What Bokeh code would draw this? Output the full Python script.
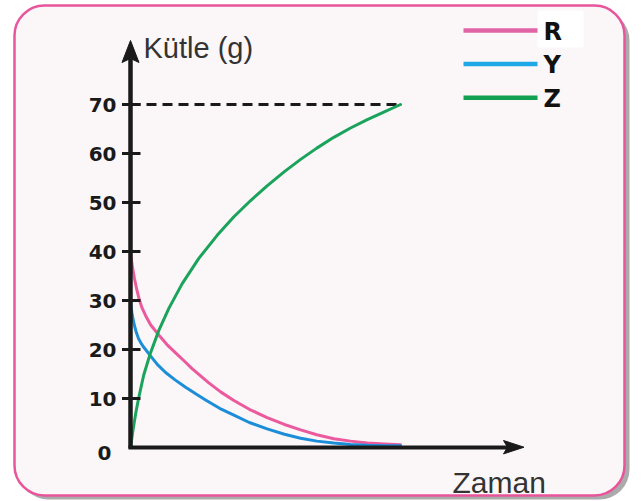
from bokeh.plotting import figure
from bokeh.models import Range1d, BoxAnnotation
from bokeh.core.properties import value
from bokeh.embed import file_html
from bokeh.resources import INLINE

# ---------------- data ----------------
R_time = [0, 0.03, 0.08, 0.15, 0.23, 0.32, 0.42, 0.56, 0.75, 1.07, 1.35, 1.67, 2.0, 2.28,
          2.9, 3.35, 3.83, 4.4, 5.06, 5.7, 6.3, 6.9, 7.53, 8.15, 8.77, 9.4, 10]
R_mass = [40, 38.4, 36.6, 34.4, 32.3, 30.3, 28.6, 26.9, 25.0, 22.8, 21.0, 19.3, 17.6, 16.1,
          13.2, 11.3, 9.6, 7.8, 6.1, 4.7, 3.6, 2.6, 1.8, 1.3, 0.9, 0.7, 0.55]

Y_time = [0, 0.02, 0.05, 0.09, 0.15, 0.22, 0.3, 0.4, 0.5, 0.74, 1.0, 1.3, 1.65, 2.04,
          2.4, 2.78, 3.3, 3.83, 4.4, 5.06, 5.7, 6.3, 6.9, 7.53, 8.15, 8.77, 9.4, 10]
Y_mass = [30, 28.8, 27.6, 26.3, 24.8, 23.4, 22.2, 21.2, 20.4, 18.7, 16.9, 15.3, 13.8, 12.3,
          11.0, 9.7, 8.0, 6.6, 5.1, 3.8, 2.7, 1.9, 1.3, 0.9, 0.6, 0.45, 0.38, 0.35]

Z_time = [0, 0.1, 0.2, 0.31, 0.49, 0.74, 1.05, 1.42, 1.91, 2.53, 3.21, 3.83, 4.45,
          5.06, 5.7, 6.3, 6.9, 7.53, 8.15, 8.77, 9.4, 10]
Z_mass = [0, 3.8, 7.2, 10.3, 14.8, 19.3, 23.9, 28.4, 33.4, 38.6, 43.3, 47.1, 50.4,
          53.4, 56.3, 58.8, 61.1, 63.3, 65.2, 66.9, 68.5, 70]

tick_values = [0, 10, 20, 30, 40, 50, 60, 70]
tick_labels = ["0", "10", "20", "30", "40", "50", "60", "70"]

series_names = ["R", "Y", "Z"]
y_title = "Kütle (g)"
x_title = "Zaman"

# ---------------- styles ----------------
curve_colors = ["#EC5A9E", "#1C8ED9", "#1AA35B"]
legend_colors = ["#E064A6", "#1EA9E6", "#14A052"]
INK = "#1a1a1a"

W, H = 641, 501
# layout: canvas px of the origin and pixel scale
OX, OY = 130.0, 447.0
SX, SY = 27.0, 4.9


def dx(px):
    return (px - OX) / SX


def dy(py):
    return (OY - py) / SY


p = figure(width=W, height=H,
           x_range=Range1d(dx(0), dx(W)),
           y_range=Range1d(dy(H), dy(0)),
           output_backend="svg", toolbar_location=None,
           x_axis_location=None, y_axis_location=None,
           min_border=0, min_border_left=0, min_border_right=0,
           min_border_top=0, min_border_bottom=0)
p.outline_line_color = None
p.background_fill_color = "white"
p.border_fill_color = "white"
p.xgrid.visible = False
p.ygrid.visible = False

# panel with shadow
shadow = BoxAnnotation(left=dx(18), right=dx(629), top=dy(10), bottom=dy(499),
                       fill_color="#8f8f8f", fill_alpha=0.75, line_color=None,
                       border_radius=30, level="underlay")
panel = BoxAnnotation(left=dx(14), right=dx(624), top=dy(5), bottom=dy(495),
                      fill_color="#FBF6F8", fill_alpha=1.0, line_color="#E8559B",
                      line_alpha=1.0, line_width=2.5, border_radius=30, level="underlay")
p.add_layout(shadow)
p.add_layout(panel)

# dashed reference line at Z's final value
p.line([0, Z_time[-1]], [Z_mass[-1], Z_mass[-1]], line_color=INK,
       line_width=3, line_dash="10 6")

# curves
for t, m, c in zip([R_time, Y_time, Z_time], [R_mass, Y_mass, Z_mass], curve_colors):
    p.line(t, m, line_color=c, line_width=3, line_join="round", line_cap="round")

# y axis with arrow
p.segment(x0=[0], y0=[dy(448)], x1=[0], y1=[dy(58)], line_color=INK, line_width=4.5)
p.patch([dx(130), dx(121.5), dx(130), dx(138.5)],
        [dy(40), dy(62), dy(58), dy(62)], fill_color=INK, line_color=INK, line_width=1)
# x axis with arrow
p.segment(x0=[dx(128)], y0=[0], x1=[dx(508)], y1=[0], line_color=INK, line_width=4)
p.patch([dx(523.5), dx(503), dx(507), dx(503)],
        [dy(446.7), dy(440), dy(446.7), dy(453.4)], fill_color=INK, line_color=INK, line_width=1)

# ticks
tv = tick_values[1:]
p.segment(x0=[dx(121.5)] * len(tv), y0=tv, x1=[dx(140)] * len(tv), y1=tv,
          line_color=INK, line_width=3)
p.text(x=[dx(116)] * len(tv), y=tv, text=tick_labels[1:],
       text_align="right", text_baseline="middle",
       text_font=value("DejaVu Sans"), text_font_style="bold",
       text_font_size="20px", text_color=INK)
p.text(x=[dx(111)], y=[tick_values[0] - 5.0 / SY], text=[tick_labels[0]],
       text_align="right", text_baseline="middle",
       text_font=value("DejaVu Sans"), text_font_style="bold",
       text_font_size="20px", text_color=INK)

# axis titles
p.text(x=[dx(143)], y=[dy(47)], text=[y_title], text_align="left",
       text_baseline="alphabetic", text_font=value("Liberation Sans"),
       text_font_size="29px", text_color="#333333")
p.text(x=[dx(452)], y=[dy(482)], text=[x_title], text_align="left",
       text_baseline="alphabetic", text_font=value("Liberation Sans"),
       text_font_size="30px", text_color="#333333")

# legend
white_box = BoxAnnotation(left=dx(537), right=dx(583), top=dy(10), bottom=dy(47),
                          fill_color="white", fill_alpha=1.0, line_color=None,
                          level="underlay")
p.add_layout(white_box)
rows = [30.0 + 33.6 * i for i in range(len(series_names))]
p.segment(x0=[dx(463)] * 3, y0=[dy(r) for r in rows], x1=[dx(537)] * 3,
          y1=[dy(r) for r in rows], line_color=legend_colors, line_width=4.5)
p.text(x=[dx(543)] * 3, y=[dy(r + 1) for r in rows], text=series_names,
       text_align="left", text_baseline="middle",
       text_font=value("DejaVu Sans"), text_font_style="bold",
       text_font_size="24px", text_color="#111111")

open("out.html", "w").write(file_html(p, INLINE))
